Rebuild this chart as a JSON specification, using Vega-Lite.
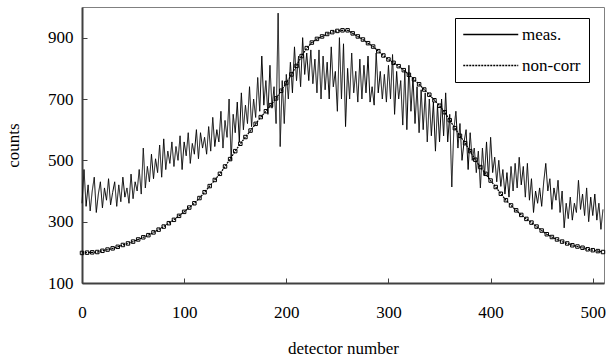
{
  "$schema": "https://vega.github.io/schema/vega-lite/v6.json",
  "width": 522,
  "height": 276,
  "autosize": {"type": "none"},
  "padding": {"left": 82, "top": 7, "right": 2, "bottom": 80},
  "background": "white",
  "config": {
    "font": "Liberation Serif",
    "view": {"stroke": "#808080", "strokeWidth": 1},
    "axis": {
      "grid": false,
      "domainColor": "#404040",
      "domainWidth": 2,
      "tickColor": "#404040",
      "tickSize": -5,
      "labelFont": "Liberation Serif",
      "labelFontSize": 17,
      "labelColor": "black",
      "labelFlush": false,
      "titleFont": "Liberation Serif",
      "titleFontSize": 17,
      "titleFontWeight": "normal",
      "titleColor": "black"
    },
    "legend": {"labelFont": "Liberation Serif", "titleFont": "Liberation Serif"}
  },
  "datasets": {
    "meas": [
      {"d":0,"c":360},{"d":2,"c":470},{"d":4,"c":350},{"d":6,"c":420},{"d":8,"c":335},{"d":10,"c":400},{"d":12,"c":445},{"d":14,"c":330},{"d":16,"c":390},{"d":18,"c":430},
      {"d":20,"c":345},{"d":22,"c":410},{"d":24,"c":370},{"d":26,"c":440},{"d":28,"c":355},{"d":30,"c":395},{"d":32,"c":430},{"d":34,"c":350},{"d":36,"c":420},{"d":38,"c":365},
      {"d":40,"c":445},{"d":42,"c":380},{"d":44,"c":410},{"d":46,"c":360},{"d":48,"c":455},{"d":50,"c":375},{"d":52,"c":430},{"d":54,"c":400},{"d":56,"c":470},{"d":58,"c":390},
      {"d":60,"c":540},{"d":62,"c":410},{"d":64,"c":480},{"d":66,"c":430},{"d":68,"c":520},{"d":70,"c":440},{"d":72,"c":505},{"d":74,"c":460},{"d":76,"c":550},{"d":78,"c":445},
      {"d":80,"c":570},{"d":82,"c":470},{"d":84,"c":530},{"d":86,"c":490},{"d":88,"c":560},{"d":90,"c":480},{"d":92,"c":545},{"d":94,"c":500},{"d":96,"c":580},{"d":98,"c":470},
      {"d":100,"c":560},{"d":102,"c":515},{"d":104,"c":590},{"d":106,"c":490},{"d":108,"c":555},{"d":110,"c":520},{"d":112,"c":600},{"d":114,"c":505},{"d":116,"c":590},{"d":118,"c":540},
      {"d":120,"c":575},{"d":122,"c":520},{"d":124,"c":610},{"d":126,"c":530},{"d":128,"c":640},{"d":130,"c":545},{"d":132,"c":600},{"d":134,"c":560},{"d":136,"c":660},{"d":138,"c":540},
      {"d":140,"c":630},{"d":142,"c":575},{"d":144,"c":700},{"d":146,"c":500},{"d":148,"c":650},{"d":150,"c":590},{"d":152,"c":690},{"d":154,"c":560},{"d":156,"c":720},{"d":158,"c":600},
      {"d":160,"c":680},{"d":162,"c":620},{"d":164,"c":740},{"d":166,"c":610},{"d":168,"c":700},{"d":170,"c":640},{"d":172,"c":770},{"d":174,"c":660},{"d":176,"c":840},{"d":178,"c":680},
      {"d":180,"c":760},{"d":182,"c":650},{"d":184,"c":810},{"d":186,"c":670},{"d":188,"c":740},{"d":190,"c":620},{"d":192,"c":980},{"d":194,"c":545},{"d":196,"c":760},{"d":198,"c":620},
      {"d":200,"c":780},{"d":202,"c":700},{"d":204,"c":820},{"d":206,"c":720},{"d":208,"c":870},{"d":210,"c":760},{"d":212,"c":840},{"d":214,"c":740},{"d":216,"c":900},{"d":218,"c":780},
      {"d":220,"c":850},{"d":222,"c":760},{"d":224,"c":860},{"d":226,"c":750},{"d":228,"c":830},{"d":230,"c":720},{"d":232,"c":860},{"d":234,"c":700},{"d":236,"c":840},{"d":238,"c":730},
      {"d":240,"c":820},{"d":242,"c":700},{"d":244,"c":870},{"d":246,"c":740},{"d":248,"c":790},{"d":250,"c":660},{"d":252,"c":900},{"d":254,"c":700},{"d":256,"c":880},{"d":258,"c":610},
      {"d":260,"c":800},{"d":262,"c":700},{"d":264,"c":850},{"d":266,"c":720},{"d":268,"c":790},{"d":270,"c":690},{"d":272,"c":830},{"d":274,"c":700},{"d":276,"c":810},{"d":278,"c":720},
      {"d":280,"c":840},{"d":282,"c":690},{"d":284,"c":740},{"d":286,"c":680},{"d":288,"c":850},{"d":290,"c":720},{"d":292,"c":790},{"d":294,"c":700},{"d":296,"c":780},{"d":298,"c":690},
      {"d":300,"c":810},{"d":302,"c":700},{"d":304,"c":845},{"d":306,"c":650},{"d":308,"c":790},{"d":310,"c":700},{"d":312,"c":760},{"d":314,"c":615},{"d":316,"c":790},{"d":318,"c":600},
      {"d":320,"c":810},{"d":322,"c":660},{"d":324,"c":770},{"d":326,"c":620},{"d":328,"c":740},{"d":330,"c":590},{"d":332,"c":730},{"d":334,"c":600},{"d":336,"c":720},{"d":338,"c":560},
      {"d":340,"c":700},{"d":342,"c":580},{"d":344,"c":690},{"d":346,"c":530},{"d":348,"c":680},{"d":350,"c":560},{"d":352,"c":700},{"d":354,"c":580},{"d":356,"c":720},{"d":358,"c":560},
      {"d":360,"c":650},{"d":362,"c":413},{"d":364,"c":600},{"d":366,"c":660},{"d":368,"c":540},{"d":370,"c":620},{"d":372,"c":500},{"d":374,"c":560},{"d":376,"c":600},{"d":378,"c":470},
      {"d":380,"c":590},{"d":382,"c":500},{"d":384,"c":540},{"d":386,"c":460},{"d":388,"c":530},{"d":390,"c":410},{"d":392,"c":540},{"d":394,"c":450},{"d":396,"c":560},{"d":398,"c":440},
      {"d":400,"c":575},{"d":402,"c":460},{"d":404,"c":510},{"d":406,"c":430},{"d":408,"c":500},{"d":410,"c":415},{"d":412,"c":470},{"d":414,"c":390},{"d":416,"c":460},{"d":418,"c":380},
      {"d":420,"c":480},{"d":422,"c":400},{"d":424,"c":490},{"d":426,"c":410},{"d":428,"c":510},{"d":430,"c":420},{"d":432,"c":480},{"d":434,"c":380},{"d":436,"c":490},{"d":438,"c":370},
      {"d":440,"c":440},{"d":442,"c":330},{"d":444,"c":400},{"d":446,"c":360},{"d":448,"c":410},{"d":450,"c":350},{"d":452,"c":430},{"d":454,"c":490},{"d":456,"c":400},{"d":458,"c":440},
      {"d":460,"c":340},{"d":462,"c":410},{"d":464,"c":370},{"d":466,"c":435},{"d":468,"c":330},{"d":470,"c":400},{"d":472,"c":280},{"d":474,"c":360},{"d":476,"c":310},{"d":478,"c":380},
      {"d":480,"c":305},{"d":482,"c":360},{"d":484,"c":330},{"d":486,"c":435},{"d":488,"c":340},{"d":490,"c":390},{"d":492,"c":320},{"d":494,"c":410},{"d":496,"c":300},{"d":498,"c":380},
      {"d":500,"c":320},{"d":502,"c":390},{"d":504,"c":305},{"d":506,"c":360},{"d":508,"c":275},{"d":510,"c":340}
    ],
    "noncorr": [
      {"d":0,"c":198},{"d":5,"c":199},{"d":10,"c":200},{"d":15,"c":201},{"d":20,"c":205},{"d":25,"c":209},{"d":30,"c":213},{"d":35,"c":218},{"d":40,"c":224},{"d":45,"c":229},
      {"d":50,"c":235},{"d":55,"c":242},{"d":60,"c":249},{"d":65,"c":256},{"d":70,"c":265},{"d":75,"c":274},{"d":80,"c":284},{"d":85,"c":295},{"d":90,"c":306},{"d":95,"c":319},
      {"d":100,"c":332},{"d":105,"c":346},{"d":110,"c":360},{"d":115,"c":377},{"d":120,"c":396},{"d":125,"c":416},{"d":130,"c":436},{"d":135,"c":456},{"d":140,"c":480},{"d":145,"c":504},
      {"d":150,"c":530},{"d":155,"c":554},{"d":160,"c":576},{"d":165,"c":597},{"d":170,"c":619},{"d":175,"c":641},{"d":180,"c":660},{"d":185,"c":680},{"d":190,"c":702},{"d":195,"c":727},
      {"d":200,"c":752},{"d":205,"c":780},{"d":210,"c":808},{"d":215,"c":840},{"d":220,"c":866},{"d":225,"c":884},{"d":230,"c":896},{"d":235,"c":904},{"d":240,"c":912},{"d":245,"c":918},
      {"d":250,"c":922},{"d":255,"c":924},{"d":260,"c":924},{"d":265,"c":914},{"d":270,"c":904},{"d":275,"c":894},{"d":280,"c":882},{"d":285,"c":871},{"d":290,"c":856},{"d":295,"c":842},
      {"d":300,"c":829},{"d":305,"c":818},{"d":310,"c":807},{"d":315,"c":794},{"d":320,"c":779},{"d":325,"c":764},{"d":330,"c":748},{"d":335,"c":731},{"d":340,"c":714},{"d":345,"c":696},
      {"d":350,"c":678},{"d":355,"c":657},{"d":360,"c":631},{"d":365,"c":605},{"d":370,"c":580},{"d":375,"c":556},{"d":380,"c":530},{"d":385,"c":502},{"d":390,"c":478},{"d":395,"c":456},
      {"d":400,"c":434},{"d":405,"c":413},{"d":410,"c":391},{"d":415,"c":370},{"d":420,"c":353},{"d":425,"c":337},{"d":430,"c":322},{"d":435,"c":309},{"d":440,"c":297},{"d":445,"c":284},
      {"d":450,"c":271},{"d":455,"c":259},{"d":460,"c":250},{"d":465,"c":242},{"d":470,"c":235},{"d":475,"c":229},{"d":480,"c":223},{"d":485,"c":219},{"d":490,"c":215},{"d":495,"c":210},
      {"d":500,"c":207},{"d":505,"c":204},{"d":510,"c":201}
    ]
  },
  "encoding": {
    "x": {
      "field": "d", "type": "quantitative", "title": "detector number",
      "scale": {"domain": [0, 511], "nice": false, "zero": false},
      "axis": {"values": [0, 100, 200, 300, 400, 500], "labelPadding": 26, "titlePadding": 20,
               "labelFont": "Liberation Serif", "titleFont": "Liberation Serif"}
    },
    "y": {
      "field": "c", "type": "quantitative", "title": "counts",
      "scale": {"domain": [100, 1000], "nice": false, "zero": false},
      "axis": {"values": [100, 300, 500, 700, 900], "labelPadding": 14, "titlePadding": 25,
               "labelFont": "Liberation Serif", "titleFont": "Liberation Serif"}
    }
  },
  "layer": [
    {
      "data": {"name": "meas"},
      "transform": [{"calculate": "'meas.'", "as": "s"}],
      "mark": {"type": "line", "color": "black", "strokeWidth": 1},
      "encoding": {
        "strokeDash": {
          "field": "s", "type": "nominal",
          "scale": {"domain": ["meas.", "non-corr"], "range": [[1, 0], [2, 1]]},
          "legend": {
            "orient": "none", "legendX": 373, "legendY": 11, "title": null,
            "strokeColor": "black", "padding": 8, "fillColor": "white",
            "symbolType": "M-1.5,0H8.5", "symbolSize": 121, "symbolStrokeWidth": 1.6, "symbolStrokeColor": "black",
            "labelFont": "Liberation Serif", "labelFontSize": 17, "labelColor": "black", "labelOffset": 42,
            "rowPadding": 13
          }
        }
      }
    },
    {
      "data": {"name": "noncorr"},
      "transform": [{"calculate": "'non-corr'", "as": "s"}],
      "mark": {"type": "line", "color": "black", "strokeWidth": 1.2},
      "encoding": {
        "strokeDash": {"field": "s", "type": "nominal"}
      }
    },
    {
      "data": {"name": "noncorr"},
      "mark": {"type": "point", "shape": "square", "filled": false, "color": "black", "size": 12, "strokeWidth": 1, "opacity": 1}
    }
  ]
}
